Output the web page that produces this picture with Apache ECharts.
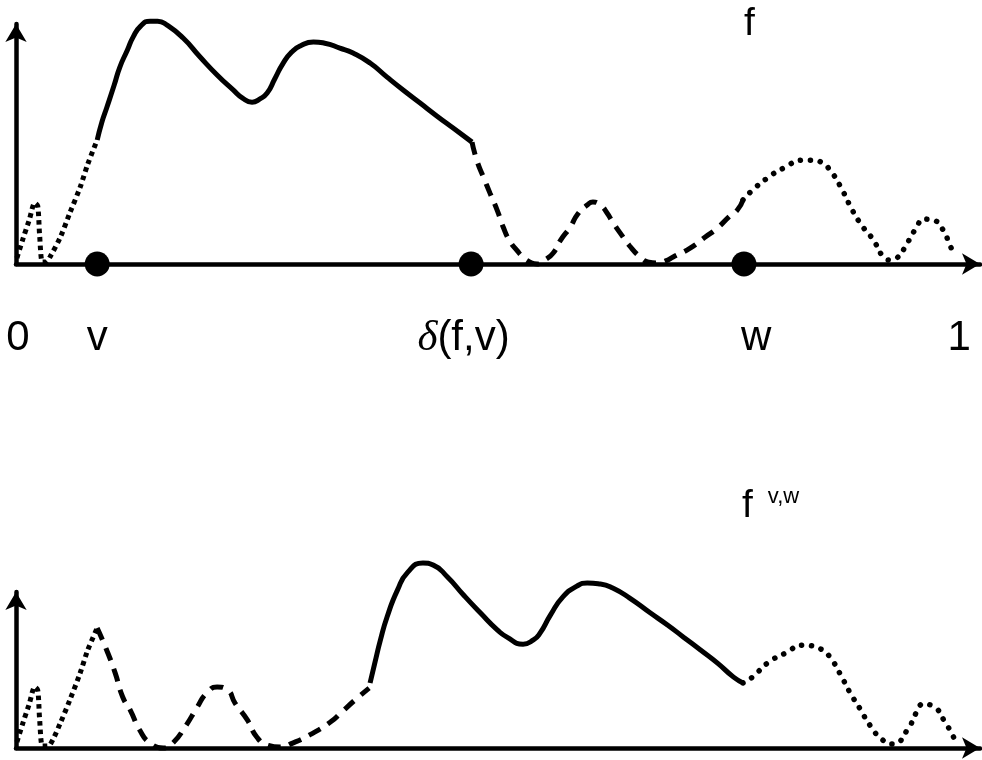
<!DOCTYPE html>
<html>
<head>
<meta charset="utf-8">
<title>f and f v,w</title>
<script src="https://cdn.jsdelivr.net/npm/echarts@6/dist/echarts.min.js"></script>
<style>
html, body { margin: 0; padding: 0; background: #fff; }
#main { width: 982px; height: 760px; }
</style>
</head>
<body>
<div id="main"></div>
<script>
// x: position on [0,1] in percent, y: height of the function (same unit in both panels)

// top panel: f
const tailX = [0.1, 0.7, 1.4, 2.0, 2.3, 2.5, 2.8, 3.2, 3.6, 4.7, 5.7, 6.8, 7.6, 8.6]
const tailY = [2.6, 10.3, 18.8, 26.1, 24.8, 12.4, 0.9, 0.9, 3.0, 11.5, 21.8, 32.9, 42.7, 53.0]

const mainX = [8.6, 9.1, 9.6, 10.4, 11.0, 11.8, 12.4, 13.2, 14.2, 15.0, 16.0, 17.7, 19.5, 21.3, 23.0, 24.0, 25.0, 25.8, 26.6, 27.4,
  28.3, 29.2, 30.1, 31.5, 32.7, 34.3, 35.7, 37.5, 39.3, 41.0, 42.8, 44.6, 46.3, 48.3]
const mainY = [53.0, 60.7, 66.7, 76.5, 84.2, 91.5, 97.0, 101.7, 103.8, 103.8, 102.1, 96.6, 88.5, 80.8, 74.4, 70.9, 69.2, 70.5, 73.1, 79.1,
  85.9, 90.6, 93.2, 94.9, 94.4, 92.3, 90.2, 85.9, 79.9, 74.4, 68.8, 63.2, 58.1, 52.1]

const dashX = [48.3, 48.8, 49.5, 50.2, 51.0, 51.6, 52.3, 53.1, 53.7, 54.4, 55.2, 56.0, 56.9, 57.7, 58.7, 59.5, 60.5, 61.1, 61.9, 62.6,
  63.2, 64.0, 65.0, 66.1, 66.9, 67.9, 68.8, 69.6, 71.4, 73.0, 74.3, 75.6, 76.4, 77.0]
const dashY = [52.1, 44.4, 37.2, 30.3, 22.6, 15.8, 9.8, 5.6, 3.0, 0.9, 0, 1.7, 4.7, 10.3, 15.8, 21.4, 25.2, 26.5, 25.2, 21.8,
  17.9, 13.2, 7.7, 3.0, 0.9, 0.4, 1.3, 3.0, 6.8, 11.5, 15.4, 20.5, 23.1, 27.4]

const dotX = [77.0, 77.8, 79.6, 81.3, 83.4, 84.4, 85.4, 86.2, 87.3, 88.3, 89.4, 90.8, 91.8, 92.6, 93.3, 94.4, 95.4, 96.1, 97.1, 98.2, 98.9, 99.5]
const dotY = [27.4, 30.8, 36.8, 41.0, 44.4, 44.4, 43.2, 40.2, 33.3, 25.2, 17.5, 10.3, 3.4, 1.7, 2.6, 9.0, 15.8, 19.2, 18.8, 14.5, 8.1, 3.4]

// bottom panel: f^{v,w}
const tail2X = [0.1, 0.7, 1.4, 2.0, 2.3, 2.5, 2.8, 3.2, 3.6, 4.7, 5.7, 6.8, 7.6, 8.6]
const tail2Y = [2.6, 10.3, 18.8, 26.1, 24.8, 12.4, 0.9, 0.9, 1.3, 10.7, 20.5, 32.1, 41.9, 51.3]

const dash2X = [8.6, 9.6, 10.5, 11.3, 12.1, 13.1, 14.2, 15.6, 16.6, 17.9, 19.2, 20.2, 21.3, 22.4, 23.2, 24.5, 25.5, 26.6, 28.0,
  29.3, 31.1, 33.3, 34.5, 35.9, 37.4]
const dash2Y = [51.3, 41.9, 32.1, 21.8, 16.2, 7.7, 2.1, 0, 2.1, 9.0, 17.5, 23.5, 26.1, 24.8, 19.2, 12.0, 4.7, 1.3, 0.4,
  2.1, 5.6, 11.1, 15.4, 20.5, 25.6]

const main2X = [37.5, 38.0, 38.6, 39.3, 40.4, 41.5, 43.1, 44.2, 45.7, 47.4, 49.2, 51.0, 52.0, 53.7, 54.8, 55.5, 56.6, 57.9, 59.4, 60.5,
  61.9, 63.2, 65.0, 67.2, 69.0, 70.7, 72.5, 74.3, 76.0, 77.0]
const main2Y = [27.8, 36.3, 46.2, 56.0, 67.5, 75.2, 79.1, 78.2, 73.1, 65.4, 57.7, 50.4, 47.4, 44.4, 46.2, 49.1, 56.8, 64.5, 69.2, 70.5,
  70.1, 68.4, 64.1, 57.7, 52.6, 47.4, 41.9, 36.3, 30.3, 27.8]

const dot2X = [77.0, 78.0, 79.6, 81.5, 83.4, 84.4, 85.4, 86.2, 87.3, 88.3, 89.4, 90.5, 91.8, 92.9, 94.4, 95.4, 96.1, 97.1, 98.4, 99.4]
const dot2Y = [27.8, 30.3, 36.3, 40.6, 44.0, 43.6, 41.9, 38.9, 31.6, 23.9, 16.7, 9.4, 3.4, 1.7, 7.7, 15.4, 18.8, 17.9, 11.1, 3.8]

// marked points v, delta(f,v), w
const markX = [8.6, 48.2, 77.1]

// tick labels under the top axis
const labelX = [0.2, 8.6, 47.4, 78.4, 99.9]
const labelText = ['0', 'v', '{d|δ}(f,v)', 'w', '1']

const zip = (xs, ys) => xs.map((x, i) => [x, ys[i]])

const chart = echarts.init(document.getElementById('main'))

const axisLine = {
  show: true,
  lineStyle: { color: '#000', width: 4.5 },
  symbol: ['none', 'arrow'],
  symbolSize: [16, 18]
}

function curve(name, xs, ys, idx, style) {
  return {
    name: name,
    type: 'line',
    xAxisIndex: idx,
    yAxisIndex: idx,
    data: zip(xs, ys),
    showSymbol: false,
    smooth: 0.55,
    clip: false,
    silent: true,
    lineStyle: Object.assign({ color: '#000', width: 5 }, style)
  }
}

const squareDots = { type: [4.5, 4], cap: 'butt' }
const dashes = { type: [13, 9], cap: 'butt' }
const roundDots = { type: [0.1, 10], width: 5.5, cap: 'round' }

const option = {
  animation: false,
  backgroundColor: '#fff',
  title: [
    {
      text: 'f',
      left: 744,
      top: 5,
      padding: 0,
      textStyle: { fontFamily: 'Liberation Sans', fontWeight: 'normal', fontSize: 39, color: '#000' }
    },
    {
      text: '{f|f}{s|v,w}',
      left: 742,
      top: 484,
      padding: 0,
      textStyle: {
        rich: {
          f: { fontFamily: 'Liberation Sans', fontWeight: 'normal', fontSize: 39, color: '#000', lineHeight: 44 },
          s: {
            fontFamily: 'Liberation Sans', fontWeight: 'normal', fontSize: 22, color: '#000',
            verticalAlign: 'top', padding: [2, 0, 0, 15]
          }
        }
      }
    }
  ],
  grid: [
    { left: 16, right: 2, top: 24, height: 240 },
    { left: 16, right: 2, top: 592, height: 156 }
  ],
  xAxis: [
    {
      gridIndex: 0,
      type: 'value',
      min: 0,
      max: 102.1,
      axisLine: axisLine,
      axisTick: { show: false },
      splitLine: { show: false },
      axisLabel: {
        show: true,
        customValues: labelX,
        margin: 53,
        color: '#000',
        fontFamily: 'Liberation Sans',
        fontSize: 42,
        formatter: function(value) {
          const i = labelX.indexOf(value)
          return i >= 0 ? labelText[i] : ''
        },
        rich: {
          d: { fontFamily: 'Liberation Serif', fontStyle: 'italic', fontSize: 43, color: '#000' }
        }
      }
    },
    {
      gridIndex: 1,
      type: 'value',
      min: 0,
      max: 102.1,
      axisLine: axisLine,
      axisTick: { show: false },
      splitLine: { show: false },
      axisLabel: { show: false }
    }
  ],
  yAxis: [
    {
      gridIndex: 0,
      type: 'value',
      min: 0,
      max: 102.6,
      axisLine: axisLine,
      axisTick: { show: false },
      splitLine: { show: false },
      axisLabel: { show: false }
    },
    {
      gridIndex: 1,
      type: 'value',
      min: 0,
      max: 66.7,
      axisLine: axisLine,
      axisTick: { show: false },
      splitLine: { show: false },
      axisLabel: { show: false }
    }
  ],
  series: [
    Object.assign(curve('tail', tailX, tailY, 0, squareDots), { smooth: 0.3 }),
    curve('main', mainX, mainY, 0, {}),
    curve('dash', dashX, dashY, 0, dashes),
    curve('dot', dotX, dotY, 0, roundDots),
    Object.assign(curve('tail2', tail2X, tail2Y, 1, squareDots), { smooth: 0.3 }),
    curve('dash2', dash2X, dash2Y, 1, dashes),
    curve('main2', main2X, main2Y, 1, {}),
    curve('dot2', dot2X, dot2Y, 1, roundDots),
    {
      name: 'points',
      type: 'scatter',
      xAxisIndex: 0,
      yAxisIndex: 0,
      data: markX.map(x => [x, 0]),
      symbolSize: 25,
      itemStyle: { color: '#000', opacity: 1 },
      silent: true,
      clip: false,
      z: 5
    }
  ]
}

chart.setOption(option)
</script>
</body>
</html>
